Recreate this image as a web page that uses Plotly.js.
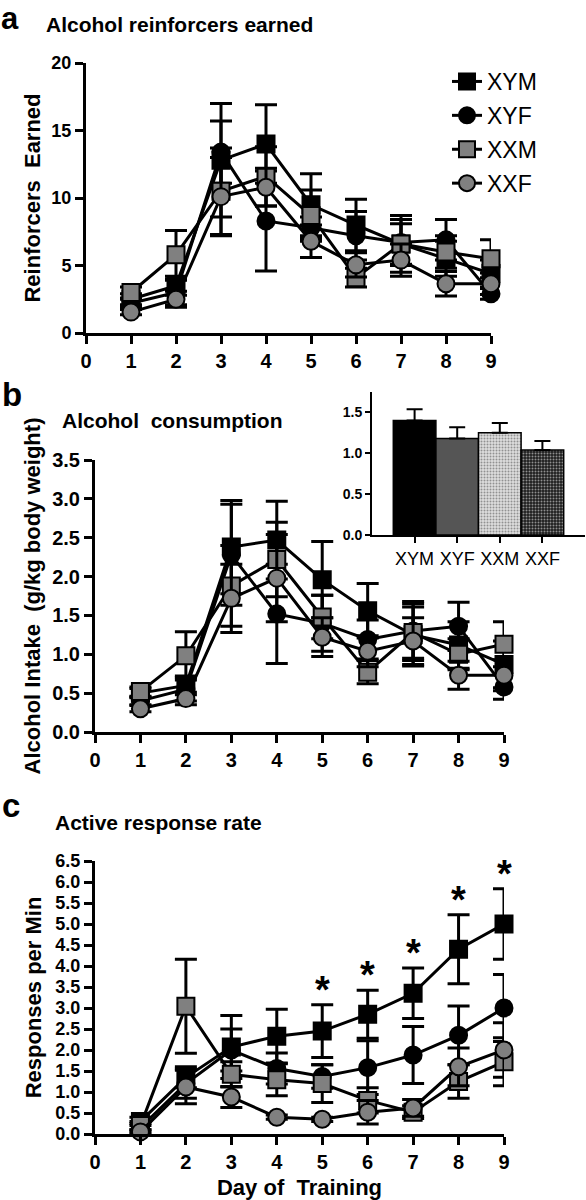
<!DOCTYPE html>
<html><head><meta charset="utf-8">
<script src="https://cdn.plot.ly/plotly-3.0.1.min.js"></script>
<style>html,body{margin:0;padding:0;background:#fff}</style>
</head><body><div id="chart" style="width:586px;height:1200px"></div>
<script>
// ---------- data ----------
const days = [1,2,3,4,5,6,7,8,9];
const groups = ['XYM','XYF','XXM','XXF'];

// (a) Alcohol reinforcers earned
const reinfXYM = [2.5, 3.5, 12.8, 14.0, 9.5, 8.0, 6.6, 5.5, 4.4];
const reinfXYF = [2.2, 3.0, 13.4, 8.3, 7.8, 7.2, 6.7, 6.9, 2.9];
const reinfXXM = [3.0, 5.8, 10.5, 11.6, 8.7, 4.1, 6.6, 6.0, 5.5];
const reinfXXF = [1.55, 2.5, 10.1, 10.8, 6.8, 5.05, 5.4, 3.65, 3.65];
const reinfErrXYM = [0.4, 0.7, 4.2, 2.9, 2.3, 1.9, 2.1, 1.3, 1.0];
const reinfErrXYF = [0.3, 0.9, 2.3, 3.7, 0.8, 1.8, 1.7, 1.5, 0.4];
const reinfErrXXM = [0.4, 1.8, 3.2, 2.2, 1.9, 0.7, 1.5, 1.2, 1.4];
const reinfErrXXF = [0.2, 0.6, 2.9, 1.4, 1.2, 0.9, 1.2, 0.9, 0.8];

// (b) Alcohol consumption (g/kg)
const intakeXYM = [0.5, 0.6, 2.38, 2.47, 1.96, 1.56, 1.25, 1.12, 0.87];
const intakeXYF = [0.4, 0.55, 2.28, 1.52, 1.4, 1.19, 1.3, 1.36, 0.58];
const intakeXXM = [0.52, 0.98, 1.88, 2.22, 1.48, 0.77, 1.28, 1.0, 1.13];
const intakeXXF = [0.3, 0.43, 1.72, 1.98, 1.22, 1.04, 1.17, 0.73, 0.73];
const intakeErrXYM = [0.06, 0.12, 0.6, 0.5, 0.49, 0.35, 0.4, 0.3, 0.3];
const intakeErrXYF = [0.05, 0.15, 0.65, 0.64, 0.36, 0.25, 0.38, 0.31, 0.16];
const intakeErrXXM = [0.06, 0.31, 0.52, 0.48, 0.28, 0.15, 0.33, 0.2, 0.29];
const intakeErrXXF = [0.04, 0.08, 0.44, 0.56, 0.25, 0.2, 0.3, 0.18, 0.2];

// inset: mean intake
const meanIntake = [1.40, 1.18, 1.25, 1.04];
const meanIntakeErr = [0.14, 0.14, 0.12, 0.11];

// (c) Active response rate
const rateXYM = [0.3, 1.35, 2.07, 2.33, 2.45, 2.85, 3.35, 4.4, 5.0];
const rateXYF = [0.15, 1.2, 2.0, 1.56, 1.37, 1.58, 1.88, 2.35, 3.0];
const rateXXM = [0.2, 3.04, 1.42, 1.29, 1.2, 0.8, 0.52, 1.25, 1.72];
const rateXXF = [0.05, 1.12, 0.88, 0.4, 0.35, 0.52, 0.62, 1.6, 2.0];
const rateErrXYM = [0.1, 0.25, 0.75, 0.64, 0.63, 0.57, 0.6, 0.82, 0.84];
const rateErrXYF = [0.1, 0.35, 0.5, 0.37, 0.28, 0.64, 0.68, 0.7, 0.8];
const rateErrXXM = [0.1, 1.12, 0.3, 0.38, 0.45, 0.3, 0.15, 0.4, 0.57];
const rateErrXXF = [0.05, 0.4, 0.25, 0.05, 0.05, 0.28, 0.2, 0.45, 0.65];
const sigDays = [5, 6, 7, 8, 9];

// ---------- styles ----------
const F = 'Liberation Sans, Arial, sans-serif';
const style = {
  XYM: {symbol:'square', color:'#000000'},
  XYF: {symbol:'circle', color:'#000000'},
  XXM: {symbol:'square', color:'#808080'},
  XXF: {symbol:'circle', color:'#808080'}
};
const PW = 586, PH = 1200;
const px = v => v / PW, py = v => 1 - v / PH;

function series(name, y, err, xa, ya, legend) {
  return {
    type:'scatter', mode:'lines+markers', name:name, x:days, y:y,
    xaxis:xa, yaxis:ya, showlegend:legend, legendgroup:name, cliponaxis:false,
    line:{color:'black', width:3},
    marker:{symbol:style[name].symbol, size:17, color:style[name].color, line:{color:'black', width:2}},
    error_y:{type:'data', array:err, visible:true, color:'black', thickness:3, width:11}
  };
}

const traces = [
  series('XYM', reinfXYM, reinfErrXYM, 'x', 'y', true),
  series('XYF', reinfXYF, reinfErrXYF, 'x', 'y', true),
  series('XXM', reinfXXM, reinfErrXXM, 'x', 'y', true),
  series('XXF', reinfXXF, reinfErrXXF, 'x', 'y', true),
  series('XYM', intakeXYM, intakeErrXYM, 'x2', 'y2', false),
  series('XYF', intakeXYF, intakeErrXYF, 'x2', 'y2', false),
  series('XXM', intakeXXM, intakeErrXXM, 'x2', 'y2', false),
  series('XXF', intakeXXF, intakeErrXXF, 'x2', 'y2', false),
  series('XYM', rateXYM, rateErrXYM, 'x3', 'y3', false),
  series('XYF', rateXYF, rateErrXYF, 'x3', 'y3', false),
  series('XXM', rateXXM, rateErrXXM, 'x3', 'y3', false),
  series('XXF', rateXXF, rateErrXXF, 'x3', 'y3', false),
  {
    type:'bar', x:groups, y:meanIntake, xaxis:'x4', yaxis:'y4', showlegend:false,
    marker:{color:['#000000','#555555','#dedede','#1e1e1e'], line:{color:'black', width:1.5},
      pattern:{shape:['','','.','.'], fillmode:'overlay',
        bgcolor:['#000000','#555555','#dedede','#1e1e1e'],
        fgcolor:['#000000','#555555','#b8b8b8','#474747'], size:3, solidity:0.35}},
    error_y:{type:'data', symmetric:false, array:meanIntakeErr, arrayminus:meanIntakeErr.map(()=>0),
      color:'black', thickness:2, width:8}
  }
];

const tickFont = s => ({family:F, size:s, color:'black', weight:'bold'});
function dayAxis(dom, anchor) {
  return {domain:dom, anchor:anchor, range:[0,9], tick0:0, dtick:1, showline:true, linecolor:'black',
    linewidth:3, ticks:'outside', ticklen:8, tickwidth:3, tickcolor:'black', showgrid:false,
    zeroline:false, tickfont:tickFont(20), fixedrange:true};
}
function valAxis(dom, anchor, range, dtick, fmt, fs, title, standoff) {
  return {domain:dom, anchor:anchor, range:range, tick0:0, dtick:dtick, tickformat:fmt,
    showline:true, linecolor:'black', linewidth:3, ticks:'outside', ticklen:8, tickwidth:3,
    tickcolor:'black', showgrid:false, zeroline:false, tickfont:tickFont(fs), fixedrange:true,
    title:{text:title, font:{family:F, size:22, color:'black', weight:'bold'}, standoff:standoff}};
}

const xa = [px(86), px(491)], xb = [px(95), px(504)];
const layout = {
  width:PW, height:PH, margin:{l:0, r:0, t:0, b:0}, paper_bgcolor:'white', plot_bgcolor:'rgba(0,0,0,0)',
  font:{family:F, color:'black'},
  showlegend:true,
  legend:{x:px(447), y:py(60), xanchor:'left', yanchor:'top', bgcolor:'rgba(0,0,0,0)',
    font:{family:F, size:23, color:'black'}, tracegroupgap:1, itemwidth:30},
  xaxis: dayAxis(xa, 'y'),
  yaxis: valAxis([py(333), py(63)], 'x', [0,20], 5, 'd', 18, 'Reinforcers&nbsp; Earned', 5),
  xaxis2: dayAxis(xb, 'y2'),
  yaxis2: valAxis([py(732), py(460)], 'x2', [0,3.5], 0.5, '.1f', 20, 'Alcohol Intake&nbsp; (g/kg body weight)', 6),
  xaxis3: Object.assign(dayAxis(xb, 'y3'), {title:{text:'Day of&nbsp; Training', font:{family:F, size:22, color:'black', weight:'bold'}, standoff:12}}),
  yaxis3: valAxis([py(1134), py(861)], 'x3', [0,6.5], 0.5, '.1f', 18, 'Responses per Min', 8),
  xaxis4: {domain:[px(372), px(585)], anchor:'y4', range:[-1,4], showline:true, linecolor:'black', linewidth:2,
    ticks:'outside', ticklen:6, tickwidth:2, tickcolor:'black', showgrid:false, zeroline:false,
    tickfont:{family:F, size:18, color:'black'}, fixedrange:true},
  yaxis4: {domain:[py(535), py(392)], anchor:'x4', range:[0,1.75], tickvals:[0,0.5,1,1.5], tickformat:'.1f',
    showline:true, linecolor:'black', linewidth:2, ticks:'outside', ticklen:5, tickwidth:2, tickcolor:'black',
    showgrid:false, zeroline:false, tickfont:tickFont(14), fixedrange:true},
  bargap:0,
  annotations:[
    {text:'a', xref:'paper', yref:'paper', x:px(0), y:1, xanchor:'left', yanchor:'top', borderpad:0, showarrow:false, font:{family:F, size:31, weight:'bold'}},
    {text:'b', xref:'paper', yref:'paper', x:px(0), y:py(407), xanchor:'left', yanchor:'bottom', yshift:-8, showarrow:false, font:{family:F, size:33, weight:'bold'}},
    {text:'c', xref:'paper', yref:'paper', x:px(0), y:py(818), xanchor:'left', yanchor:'bottom', yshift:-8, showarrow:false, font:{family:F, size:33, weight:'bold'}},
    {text:'Alcohol reinforcers earned', xref:'paper', yref:'paper', x:px(44), y:py(24), xanchor:'left', yanchor:'middle', showarrow:false, font:{family:F, size:21, weight:'bold'}},
    {text:'Alcohol&nbsp; consumption', xref:'paper', yref:'paper', x:px(60), y:py(420), xanchor:'left', yanchor:'middle', showarrow:false, font:{family:F, size:21, weight:'bold'}},
    {text:'Active response rate', xref:'paper', yref:'paper', x:px(53), y:py(822), xanchor:'left', yanchor:'middle', showarrow:false, font:{family:F, size:21, weight:'bold'}}
  ].concat(sigDays.map(d => ({
    text:'*', xref:'x3', yref:'y3', x:d, y:rateXYM[d-1] + rateErrXYM[d-1], xanchor:'center', yanchor:'bottom',
    yshift:-8, showarrow:false, font:{family:F, size:38, weight:'bold', color:'black'}
  })))
};

Plotly.newPlot('chart', traces, layout, {staticPlot:true, displayModeBar:false});
</script></body></html>
